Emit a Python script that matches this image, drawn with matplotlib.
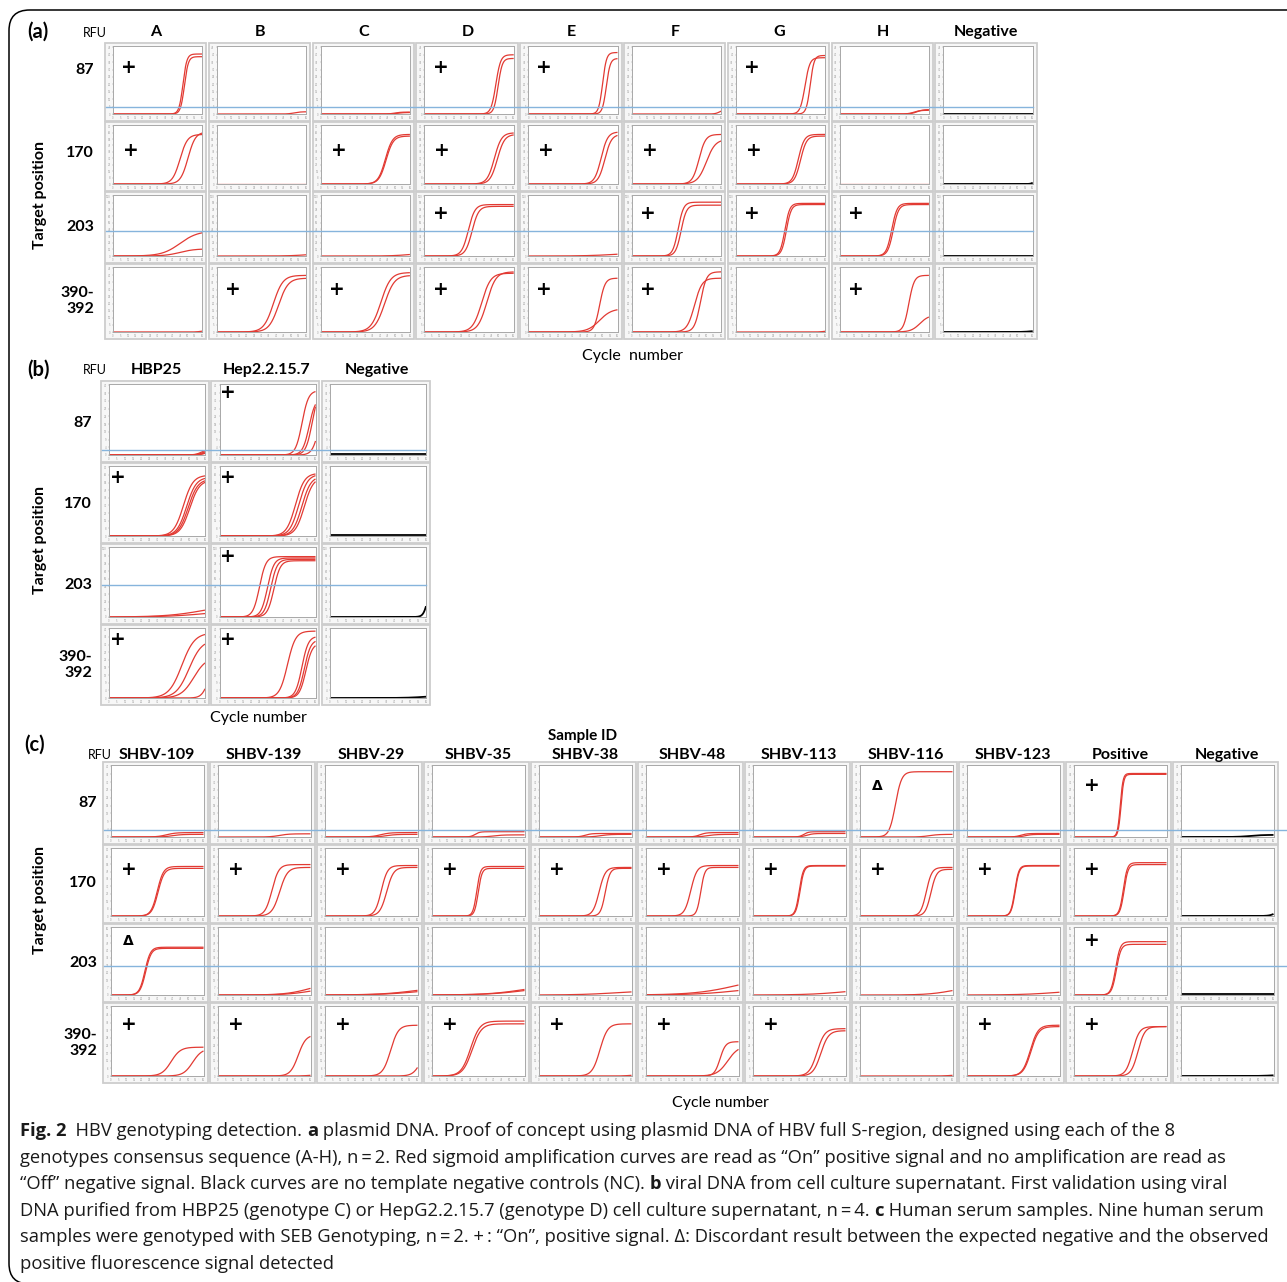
import numpy as np
import matplotlib
matplotlib.use('Agg')
import matplotlib.pyplot as plt
from matplotlib.patches import Rectangle, FancyBboxPatch
from matplotlib.lines import Line2D
from matplotlib.font_manager import FontProperties

W, H = 1287, 1282
RED = '#e23a33'
BLUE = '#86b4dc'
HEAD_FONT = 'Lato'
CAP_FONT = 'Open Sans'

# ---------------- data ----------------
# each curve: (midpoint cycle, plateau RFU, width in cycles)
a_columns = ['A', 'B', 'C', 'D', 'E', 'F', 'G', 'H', 'Negative']
a_rows = ['87', '170', '203', '390-\n392']
a_ymax = [45, 70, 100, 45]
a_threshold = [4.5, None, 42, None]

a_curves_87 = [
    [(47, 40.5, 1.3), (48, 38.7, 1.3)],
    [(52, 1.5, 2.0)],
    [(50, 1.3, 2.0), (52, 1.0, 2.0)],
    [(48, 40, 1.6), (49.5, 37.5, 1.4)],
    [(50, 41.5, 1.3), (52.5, 37.5, 1.3)],
    [(59, 3.0, 1.5)],
    [(46.5, 38, 1.6), (50, 39.5, 1.3)],
    [(50, 2.5, 2.0), (52, 3.0, 2.0)],
    [(-10, 0.3, 1.0)],
]
a_curves_170 = [
    [(45, 60, 2.5), (50.4, 63, 2.5)],
    [(-10, 0.3, 1.0)],
    [(43.5, 60, 2.4), (44, 58, 2.4)],
    [(47, 62, 2.4), (49, 60, 2.4)],
    [(49, 63, 2.2), (51.5, 60, 2.2)],
    [(45, 60, 2.2), (50, 54, 3.0)],
    [(42, 60, 2.0), (43.5, 58, 2.0)],
    [(-10, 0.3, 1.0)],
    [(61, 6, 1.0)],
]
a_curves_203 = [
    [(45, 42, 6), (45, 12, 5)],
    [(60, 4, 6)],
    [(60, 5, 6)],
    [(29.5, 86, 2.2), (32, 83, 2.2)],
    [(60, 6, 10)],
    [(31, 90, 1.8), (33, 85, 1.8)],
    [(33, 88, 1.6), (34, 86, 1.6)],
    [(35, 88, 1.8), (36, 86, 1.8)],
    [(-10, 0.5, 1.0)],
]
a_curves_390 = [
    [(60, 1.2, 2)],
    [(38, 40, 3.2), (41.5, 38, 3.2)],
    [(40.5, 42, 3.3), (43, 40, 3.3)],
    [(38.5, 41.5, 3.0), (42, 42.5, 3.0)],
    [(48, 38, 1.8), (48, 16.5, 4)],
    [(42, 38, 2.5), (46, 42.5, 2.0)],
    [(60, 1.0, 2)],
    [(46.5, 40, 1.8), (54, 12, 3)],
    [(60, 1.2, 3)],
]
a_marks_87 = ['+', '', '', '+', '+', '', '+', '', '']
a_marks_170 = ['+', '', '+', '+', '+', '+', '+', '', '']
a_marks_203 = ['', '', '', '+', '', '+', '+', '+', '']
a_marks_390 = ['', '+', '+', '+', '+', '+', '', '+', '']

b_columns = ['HBP25', 'Hep2.2.15.7', 'Negative']
b_rows = ['87', '170', '203', '390-\n392']
b_ymax = [40, 70, 100, 40]
b_threshold = [3, None, 46, None]

b_curves_87 = [
    [(58, 3.5, 2), (59, 3, 2), (60, 2.5, 2), (61, 2.5, 2)],
    [(51.6, 37, 2.0), (56, 33, 2.0), (58, 38, 2.0), (62, 30, 2.0)],
    [(-10, 0.3, 1.0)],
]
b_curves_170 = [
    [(46.5, 62, 3), (48.5, 60, 3), (49.5, 58, 3), (50.5, 57, 3)],
    [(47.5, 64, 2.8), (49.5, 63, 2.8), (51.5, 61, 2.8), (53, 60, 2.8)],
    [(-10, 0.8, 1.0)],
]
b_curves_203 = [
    [(60, 20, 12), (60, 10, 12)],
    [(25, 88, 2), (30, 86, 2), (32, 84, 2), (34, 82, 2)],
    [(61, 50, 1.3)],
]
b_curves_390 = [
    [(45.5, 38, 4), (50, 34, 4), (53, 24, 4), (62, 20, 2)],
    [(42.5, 39, 2.5), (51.5, 36, 2), (53, 34, 2), (54, 32, 2)],
    [(60, 1.5, 6)],
]
b_marks_87 = ['', '+', '']
b_marks_170 = ['+', '+', '']
b_marks_203 = ['', '+', '']
b_marks_390 = ['+', '+', '']

c_columns = ['SHBV-109', 'SHBV-139', 'SHBV-29', 'SHBV-35', 'SHBV-38', 'SHBV-48',
             'SHBV-113', 'SHBV-116', 'SHBV-123', 'Positive', 'Negative']
c_rows = ['87', '170', '203', '390-\n392']
c_ymax = [40, 70, 60, 50]
c_threshold = [4.2, None, 26.5, None]

c_curves_87 = [
    [(36, 2.5, 3), (40, 1.5, 3)],
    [(40, 1.8, 3)],
    [(36, 2.5, 3), (40, 1.5, 3)],
    [(28, 3, 1.5), (40, 1.2, 3)],
    [(30, 2, 2), (40, 1.5, 3)],
    [(35, 2.5, 2), (40, 1.5, 3)],
    [(33, 3, 1.5), (35, 2, 2)],
    [(23, 37, 2.0), (45, 1.5, 3)],
    [(35, 2, 2), (38, 1.5, 2)],
    [(30, 36, 0.9), (30.5, 35.5, 0.9)],
    [(45, 1.2, 4)],
]
c_curves_170 = [
    [(30, 52, 2.0), (30.5, 50, 2.0)],
    [(35, 54, 2.2), (40, 51, 2.5)],
    [(36.5, 53, 2.0), (40, 51, 2.2)],
    [(29, 52, 1.2), (30, 50, 1.2)],
    [(39, 51, 2.0), (43, 50, 1.5)],
    [(29, 53, 2.0), (35.5, 51, 1.3)],
    [(30, 53, 1.3), (30.5, 52.5, 1.3)],
    [(43, 51, 1.8), (46, 49, 1.8)],
    [(31, 53, 1.3), (31.3, 52.5, 1.3)],
    [(32, 56, 1.3), (32.5, 54, 1.3)],
    [(62, 8, 2)],
]
c_curves_203 = [
    [(22, 43, 1.8), (22.5, 42, 1.8)],
    [(60, 12, 8), (60, 7, 8)],
    [(60, 8.4, 12), (60, 6, 12)],
    [(60, 10, 12), (60, 8, 12)],
    [(50, 4, 12)],
    [(60, 18, 14), (60, 8, 14)],
    [(60, 6, 12)],
    [(60, 8, 8)],
    [(60, 5, 12)],
    [(27, 48, 1.5), (27.5, 45.6, 1.5)],
    [(-10, 0.5, 1.0)],
]
c_curves_390 = [
    [(39, 21, 3.0), (53, 20, 3.0)],
    [(52, 30, 2.5), (60, 1, 3)],
    [(42.5, 37, 2.5), (62, 20, 2.5)],
    [(25, 40, 3.0), (26, 38, 3.0)],
    [(39.5, 38, 2.5), (60, 1, 3)],
    [(48, 25, 1.8), (53, 22, 3.5)],
    [(41.5, 34.5, 2.5), (44, 33, 2.5)],
    [(60, 1, 3)],
    [(41, 37, 2.5), (41.5, 36, 2.5)],
    [(38, 36, 2.2), (41.5, 36, 2.2)],
    [(60, 1, 4)],
]
c_marks_87 = ['', '', '', '', '', '', '', '\u0394', '', '+', '']
c_marks_170 = ['+', '+', '+', '+', '+', '+', '+', '+', '+', '+', '']
c_marks_203 = ['\u0394', '', '', '', '', '', '', '', '', '+', '']
c_marks_390 = ['+', '+', '+', '+', '+', '+', '+', '', '+', '+', '']

cycles = np.linspace(0, 60, 240)

fig = plt.figure(figsize=(W / 100, H / 100), dpi=100)
fig.patch.set_facecolor('white')


def ftext(x, y, s, **kw):
    kw.setdefault('ha', 'center')
    kw.setdefault('va', 'center')
    return fig.text(x / W, 1 - y / H, s, **kw)


def draw_panel(x0, cw, rows_px, columns, curves, marks, ymax, thresholds,
               mark_xy, thr_end):
    for r, (top, bot) in enumerate(rows_px):
        row_axes = []
        for c, name in enumerate(columns):
            left = x0 + c * cw
            right = left + cw - 2.5
            fig.patches.append(Rectangle((left / W, 1 - bot / H), (right - left) / W, (bot - top) / H,
                                         transform=fig.transFigure, fc='#f7f7f7', ec='#cdcdcd',
                                         lw=1.3, zorder=-1))
            ax = fig.add_axes([(left + 8) / W, 1 - (bot - 7) / H,
                               (right - left - 12) / W, (bot - top - 10) / H])
            ax.set_facecolor('white')
            ax.set_xlim(0, 60)
            ax.set_ylim(0, ymax[r] * 1.02)
            xt = np.arange(0, 61, 5)
            yt = np.arange(0, ymax[r] + 0.1, ymax[r] / 9)
            ax.set_xticks(xt)
            ax.set_yticks(yt)
            ax.set_xticklabels([f'{v:.0f}' for v in xt])
            ax.set_yticklabels([f'{v:.0f}' for v in yt])
            ax.tick_params(labelsize=1.8, length=1, width=0.3, colors='#9a9a9a', pad=0.6)
            for sp in ax.spines.values():
                sp.set_color('#a8a8a8')
                sp.set_linewidth(0.7)
            color = 'black' if name == 'Negative' else RED
            lw = 1.3 if name == 'Negative' else 0.9
            for mid, top_v, wd in curves[r][c]:
                yv = top_v / (1 + np.exp(-(cycles - mid) / wd))
                ax.plot(cycles, yv, color=color, lw=lw, solid_capstyle='butt')
            if marks[r][c]:
                mx, my = mark_xy[r]
                ax.text(mx, my, marks[r][c], transform=ax.transAxes, ha='center', va='center',
                        fontsize=13.5 if marks[r][c] == '+' else 10, fontweight='bold',
                        family=['DejaVu Sans'], color='black')
            row_axes.append((left, ax))
        if thresholds[r] is not None:
            first_left, first_ax = row_axes[0]
            yfig = first_ax.transData.transform((0, thresholds[r]))[1] / H
            xend = thr_end if thr_end is not None else row_axes[-1][0] + cw - 6.5
            fig.lines.append(Line2D([(first_left + 1) / W, xend / W], [yfig, yfig],
                                    transform=fig.transFigure, color=BLUE, lw=1.0, zorder=3))


# outer rounded border (right and bottom edges fall outside the canvas)
fig.patches.append(FancyBboxPatch((9 / W, 1 - 1284 / H), (1320 - 9) / W, (1284 - 10) / H,
                                  boxstyle='round,pad=0,rounding_size=0.016',
                                  transform=fig.transFigure, fc='none', ec='black', lw=1.1,
                                  zorder=-2))

HEAD = dict(fontsize=11.5, fontweight='bold', family=HEAD_FONT)

# ---------------- panel a ----------------
a_rows_px = [(43, 121), (122, 191), (192, 263), (264, 339)]
draw_panel(105, 103.8, a_rows_px, a_columns,
           [a_curves_87, a_curves_170, a_curves_203, a_curves_390],
           [a_marks_87, a_marks_170, a_marks_203, a_marks_390],
           a_ymax, a_threshold, [(0.18, 0.69), (0.2, 0.56), (0.18, 0.69), (0.18, 0.66)], None)
ftext(38, 32, '(a)', fontsize=14.5, fontweight='bold', family=HEAD_FONT)
ftext(95, 33, 'RFU', fontsize=9, family=HEAD_FONT)
for c, name in enumerate(a_columns):
    ftext(105 + c * 103.8 + 51, 32, name, **HEAD)
for lab, yy in zip(a_rows, [70, 153, 227, 301]):
    ftext(94, yy, lab, ha='right', multialignment='right', linespacing=1.25, **HEAD)
ftext(40, 195, 'Target position', rotation=90, **HEAD)
ftext(633, 356, 'Cycle  number', fontsize=11.5, family=HEAD_FONT)

# ---------------- panel b ----------------
b_rows_px = [(381, 462), (463, 543), (544, 624), (625, 705)]
draw_panel(101, 110.5, b_rows_px, b_columns,
           [b_curves_87, b_curves_170, b_curves_203, b_curves_390],
           [b_marks_87, b_marks_170, b_marks_203, b_marks_390],
           b_ymax, b_threshold, [(0.09, 0.88), (0.09, 0.83), (0.09, 0.86), (0.09, 0.83)], None)
ftext(38, 370, '(b)', fontsize=14.5, fontweight='bold', family=HEAD_FONT)
ftext(95, 370, 'RFU', fontsize=9, family=HEAD_FONT)
for c, name in enumerate(b_columns):
    ftext(101 + c * 110.5 + 55, 370, name, **HEAD)
for lab, yy in zip(b_rows, [423, 504, 585, 665]):
    ftext(92, yy, lab, ha='right', multialignment='right', linespacing=1.25, **HEAD)
ftext(40, 540, 'Target position', rotation=90, **HEAD)
ftext(258, 718, 'Cycle number', fontsize=11.5, family=HEAD_FONT)

# ---------------- panel c ----------------
c_rows_px = [(762, 844), (845, 923), (924, 1002), (1003, 1083)]
draw_panel(103, 107.0, c_rows_px, c_columns,
           [c_curves_87, c_curves_170, c_curves_203, c_curves_390],
           [c_marks_87, c_marks_170, c_marks_203, c_marks_390],
           c_ymax, c_threshold, [(0.19, 0.71), (0.19, 0.69), (0.19, 0.8), (0.19, 0.74)], 1287)
ftext(35, 745, '(c)', fontsize=14.5, fontweight='bold', family=HEAD_FONT)
ftext(100, 755, 'RFU', fontsize=9, family=HEAD_FONT)
ftext(583, 736, 'Sample ID', fontsize=11, fontweight='bold', family=HEAD_FONT)
for c, name in enumerate(c_columns):
    ftext(103 + c * 107.0 + 54, 755, name, **HEAD)
for lab, yy in zip(c_rows, [803, 883, 963, 1043]):
    ftext(97, yy, lab, ha='right', multialignment='right', linespacing=1.25, **HEAD)
ftext(40, 900, 'Target position', rotation=90, **HEAD)
ftext(720, 1103, 'Cycle number', fontsize=11.5, family=HEAD_FONT)

# ---------------- caption ----------------
caption = [
    [('Fig. 2', 'bold'), ('  HBV genotyping detection. ', 'normal'), ('a', 'bold'),
     (' plasmid DNA. Proof of concept using plasmid DNA of HBV full S-region, designed using each of the 8', 'normal')],
    [('genotypes consensus sequence (A-H), n\u2009=\u20092. Red sigmoid amplification curves are read as \u201cOn\u201d positive signal and no amplification are read as', 'normal')],
    [('\u201cOff\u201d negative signal. Black curves are no template negative controls (NC). ', 'normal'), ('b', 'bold'),
     (' viral DNA from cell culture supernatant. First validation using viral', 'normal')],
    [('DNA purified from HBP25 (genotype C) or HepG2.2.15.7 (genotype D) cell culture supernatant, n\u2009=\u20094. ', 'normal'),
     ('c', 'bold'), (' Human serum samples. Nine human serum', 'normal')],
    [('samples were genotyped with SEB Genotyping, n\u2009=\u20092. +\u2009: \u201cOn\u201d, positive signal. \u0394: Discordant result between the expected negative and the observed', 'normal')],
    [('positive fluorescence signal detected', 'normal')],
]
renderer = fig.canvas.get_renderer()
cap_size = 13.2


def seg_width(s, weight):
    fp = FontProperties(family=[CAP_FONT, 'DejaVu Sans'], weight=weight, size=cap_size)
    w1 = renderer.get_text_width_height_descent('X' + s + 'X', fp, ismath=False)[0]
    w0 = renderer.get_text_width_height_descent('XX', fp, ismath=False)[0]
    return w1 - w0


for i, line in enumerate(caption):
    x = 20
    y = 1131 + i * 26.6
    for s, weight in line:
        ftext(x, y, s, ha='left', fontsize=cap_size, fontweight=weight,
              family=[CAP_FONT, 'DejaVu Sans'], color='#1a1a1a')
        x += seg_width(s, weight)

fig.savefig('out.png', dpi=100)
